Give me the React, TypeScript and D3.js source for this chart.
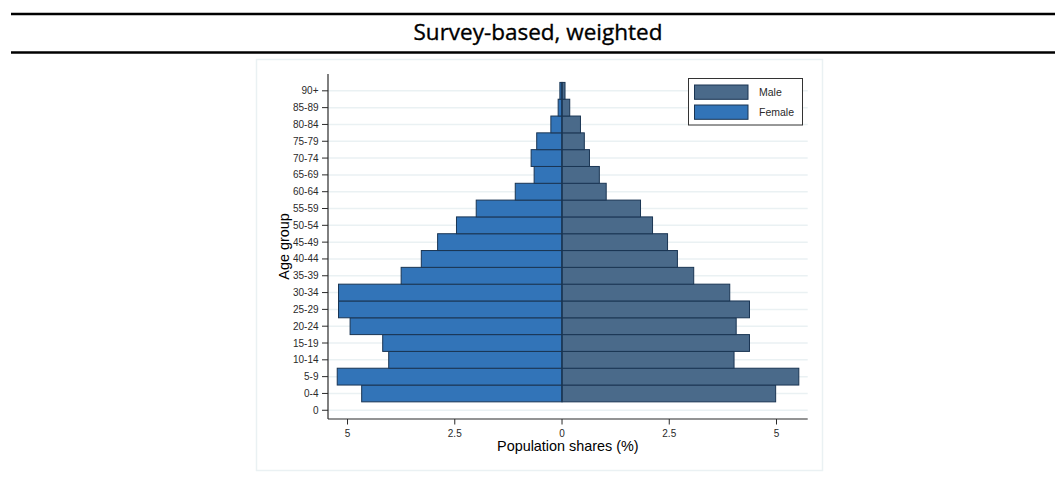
import React from "react";
import * as d3 from "d3";

const ageGroups = ["0-4","5-9","10-14","15-19","20-24","25-29","30-34","35-39","40-44","45-49","50-54","55-59","60-64","65-69","70-74","75-79","80-84","85-89","90+"];
const femaleShares = [4.67,5.24,4.04,4.18,4.94,5.21,5.21,3.75,3.28,2.90,2.46,2.00,1.09,0.65,0.72,0.59,0.26,0.09,0.05];
const maleShares = [4.98,5.52,4.01,4.37,4.06,4.37,3.91,3.07,2.69,2.46,2.11,1.83,1.03,0.87,0.64,0.52,0.43,0.18,0.07];
const xTicks = [-5,-2.5,0,2.5,5];
const yTickLabels = ["0", ...ageGroups];
const seriesNames = ["Male","Female"];
const titleText = "Survey-based, weighted";
const xTitle = "Population shares (%)";
const yTitle = "Age group";

const W = 1055, H = 492;
const FEMALE = "#3274b8";
const MALE = "#4a6a8a";
const EDGE = "#1a3553";
const GRID = "#eaf1f3";
const TXT = "#2a2a2a";

export default function App() {
  const x = d3.scaleLinear().domain([-5.455, 5.727]).range([328, 807.7]);
  const y = d3.scaleLinear().domain([-0.52, 20]).range([419, 74]);
  const fmt = (v: number) => String(Math.abs(v));
  const bar = (i: number, v: number, side: number, color: string, key: string) => {
    const idx = i + 1;
    const y0 = y(idx + 0.5), y1 = y(idx - 0.5);
    const xa = x(0), xb = x(side * v);
    return (
      <rect key={key} x={Math.min(xa, xb)} y={y0} width={Math.abs(xb - xa)} height={y1 - y0}
        fill={color} stroke={EDGE} strokeWidth={1} />
    );
  };
  return (
    <div style={{ position: "absolute", left: 0, top: 0 }}>
      <svg width={W} height={H} style={{ display: "block", background: "#fff" }}>
        <line x1={11} x2={1055} y1={14} y2={14} stroke="#000" strokeWidth={2.4} />
        <line x1={11} x2={1055} y1={52.5} y2={52.5} stroke="#000" strokeWidth={2.4} />
        <text x={538} y={39.5} textAnchor="middle" fontFamily="Open Sans" fontSize={22.5} fill="#000"
          stroke="#000" strokeWidth={0.35}>{titleText}</text>
        <rect x={256.5} y={59.5} width={566} height={411} fill="#fff" stroke={GRID} strokeWidth={1.5} />
        {yTickLabels.map((_, i) => (
          <line key={"g" + i} x1={x.range()[0]} x2={x.range()[1]} y1={y(i)} y2={y(i)} stroke={GRID} strokeWidth={1.5} />
        ))}
        {ageGroups.map((_, i) => bar(i, femaleShares[i], -1, FEMALE, "f" + i))}
        {ageGroups.map((_, i) => bar(i, maleShares[i], 1, MALE, "m" + i))}
        <line x1={x(0)} x2={x(0)} y1={y(19.5)} y2={y(0.5)} stroke={EDGE} strokeWidth={1.2} />
        {/* y axis */}
        <line x1={328} x2={328} y1={y.range()[1]} y2={y.range()[0]} stroke={TXT} strokeWidth={1.2} />
        {yTickLabels.map((lab, i) => (
          <g key={"yt" + i}>
            <line x1={322} x2={328} y1={y(i)} y2={y(i)} stroke={TXT} strokeWidth={1} />
            <text x={318.5} y={y(i)} dy="0.35em" textAnchor="end" fontFamily="Liberation Sans, Arial" fontSize={10} fill={TXT}>{lab}</text>
          </g>
        ))}
        <text transform={`translate(288.5,${(y.range()[0] + y.range()[1]) / 2}) rotate(-90)`} textAnchor="middle"
          fontFamily="Liberation Sans, Arial" fontSize={14.4} fill="#000">{yTitle}</text>
        {/* x axis */}
        <line x1={x.range()[0]} x2={x.range()[1]} y1={419} y2={419} stroke={TXT} strokeWidth={1.2} />
        {xTicks.map((t) => (
          <g key={"xt" + t}>
            <line x1={x(t)} x2={x(t)} y1={419} y2={424.5} stroke={TXT} strokeWidth={1} />
            <text x={x(t)} y={437} textAnchor="middle" fontFamily="Liberation Sans, Arial" fontSize={10} fill={TXT}>{fmt(t)}</text>
          </g>
        ))}
        <text x={(x.range()[0] + x.range()[1]) / 2} y={450.5} textAnchor="middle" fontFamily="Liberation Sans, Arial" fontSize={14.4} fill="#000">{xTitle}</text>
        {/* legend */}
        <rect x={688.5} y={78.5} width={114} height={46.5} fill="#fff" stroke="#333" strokeWidth={1} />
        {seriesNames.map((s, i) => (
          <g key={"l" + s}>
            <rect x={694.5} y={85 + i * 20} width={53.5} height={14.3} fill={i === 0 ? MALE : FEMALE} stroke={EDGE} strokeWidth={1} />
            <text x={759} y={92.2 + i * 20} dy="0.35em" fontFamily="Liberation Sans, Arial" fontSize={10.5} fill={TXT}>{s}</text>
          </g>
        ))}
      </svg>
    </div>
  );
}
